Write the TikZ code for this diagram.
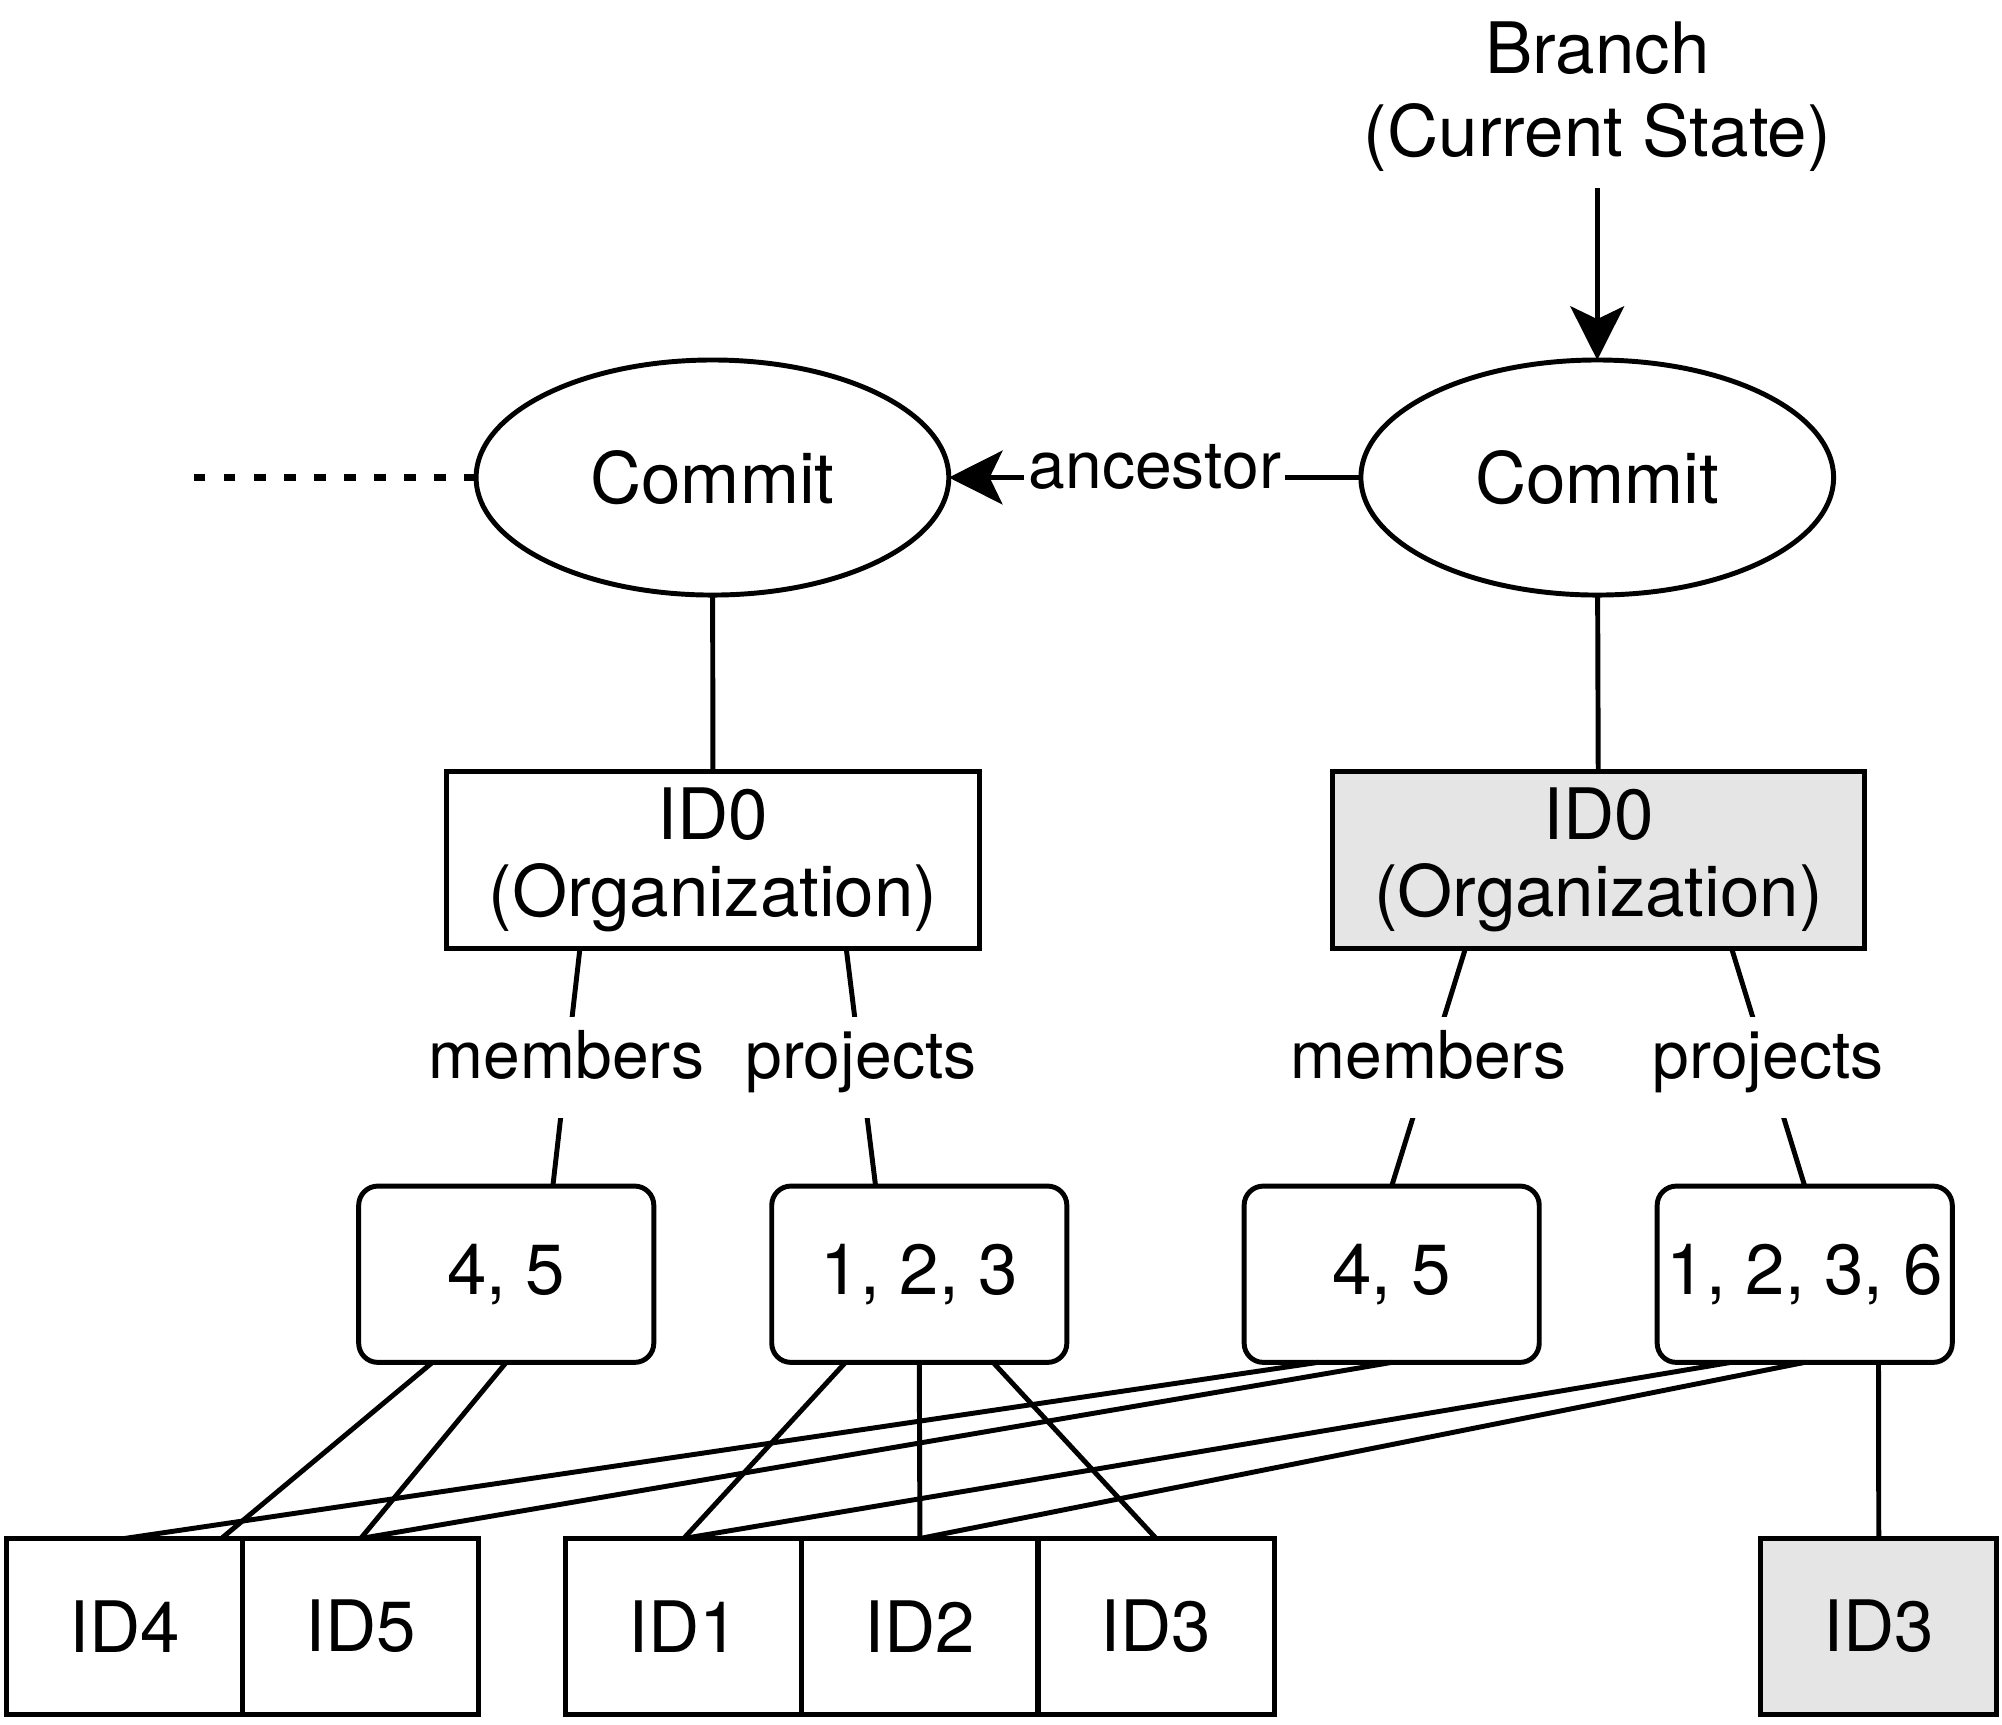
\documentclass[tikz,border=0pt]{standalone}
\usepackage{fontspec}
\setmainfont{TeX Gyre Heros}
\usepackage{tikz}
\usetikzlibrary{arrows.meta,shapes,calc}

\begin{document}
\begin{tikzpicture}[x=0.01cm,y=-0.01cm,font=\fontsize{15.8}{17}\selectfont]
\tikzset{commit/.style={ellipse, draw, line width=1.1pt, minimum width=3.7cm, minimum height=1.84cm, inner sep=0pt, outer sep=0pt},
  objbox/.style={rectangle, draw, line width=1.1pt, minimum width=4.17cm, minimum height=1.39cm, align=center, outer sep=0pt},
  listbox/.style={rectangle, draw, rounded corners=0.15cm, line width=1.1pt, minimum width=2.31cm, minimum height=1.38cm, inner xsep=1pt, outer sep=0pt},
  idbox/.style={rectangle, draw, line width=1.1pt, minimum width=1.85cm, minimum height=1.38cm, outer sep=0pt},
  newer/.style={fill=black!10},
  lbl/.style={fill=white, font=\fontsize{14.7}{17}\selectfont, inner xsep=1pt, inner ysep=0.22cm, text height=0.75em, text depth=0.25em},
  link/.style={line width=1.1pt},
  tip/.style={-{Stealth[length=4.2mm,width=4.2mm,inset=1mm]}}}
\useasboundingbox (0,0) rectangle (1568,1351);

% commits
\node[align=center, inner sep=0.12cm, font=\fontsize{15.8}{18.5}\selectfont] (br) at (1251,76) {Branch\\(Current State)};
\node[commit] (c1) at (558,374) {Commit};
\node[commit] (c2) at (1251,374) {Commit};
\coordinate (tail) at (143,374);

\draw[line width=1.2pt,tip] (br) -- (c2);
\draw[line width=1.2pt,tip] (c2) -- node[lbl,inner ysep=1pt] {ancestor} (c1);
\draw[line width=1.5pt,dash pattern=on 2.6pt off 4.1pt] (c1) -- (tail);

% organization objects
\node[objbox] (o1) at (558.5,673.5) {ID0\\(Organization)};
\node[objbox,newer] (o2) at (1252,673.5) {ID0\\(Organization)};
\draw[link] (c1) -- (o1);
\draw[link] (c2) -- (o2);

% id lists
\node[listbox] (m1) at (396.5,998) {4, 5};
\node[listbox] (p1) at (720,998) {1, 2, 3};
\node[listbox] (m2) at (1090,998) {4, 5};
\node[listbox] (p2) at (1413.5,998) {1, 2, 3, 6};

\draw[link] ($(o1.south west)!0.25!(o1.south east)$) -- node[lbl] {members} ($(m1.north west)!0.658!(m1.north east)$);
\draw[link] ($(o1.south west)!0.75!(o1.south east)$) -- node[lbl] {projects} ($(p1.north west)!0.352!(p1.north east)$);
\draw[link] ($(o2.south west)!0.25!(o2.south east)$) -- node[lbl] {members} (m2.north);
\draw[link] ($(o2.south west)!0.75!(o2.south east)$) -- node[lbl] {projects} (p2.north);

% referenced objects
\node[idbox] (i4) at (97.5,1274) {ID4};
\node[idbox] (i5) at (282.5,1274) {ID5};
\node[idbox] (i1) at (535.5,1274) {ID1};
\node[idbox] (i2) at (720.5,1274) {ID2};
\node[idbox] (i3) at (905.5,1274) {ID3};
\node[idbox,newer] (n3) at (1471.5,1274) {ID3};

\foreach \a/\f/\b/\g in {m1/0.25/i4/0.91, m1/0.5/i5/0.5, p1/0.25/i1/0.5, p1/0.5/i2/0.5, p1/0.75/i3/0.5,
    m2/0.25/i4/0.5, m2/0.5/i5/0.5, p2/0.25/i1/0.5, p2/0.5/i2/0.5, p2/0.75/n3/0.5}
  \draw[link] ($(\a.south west)!\f!(\a.south east)$) -- ($(\b.north west)!\g!(\b.north east)$);
\end{tikzpicture}
\end{document}
